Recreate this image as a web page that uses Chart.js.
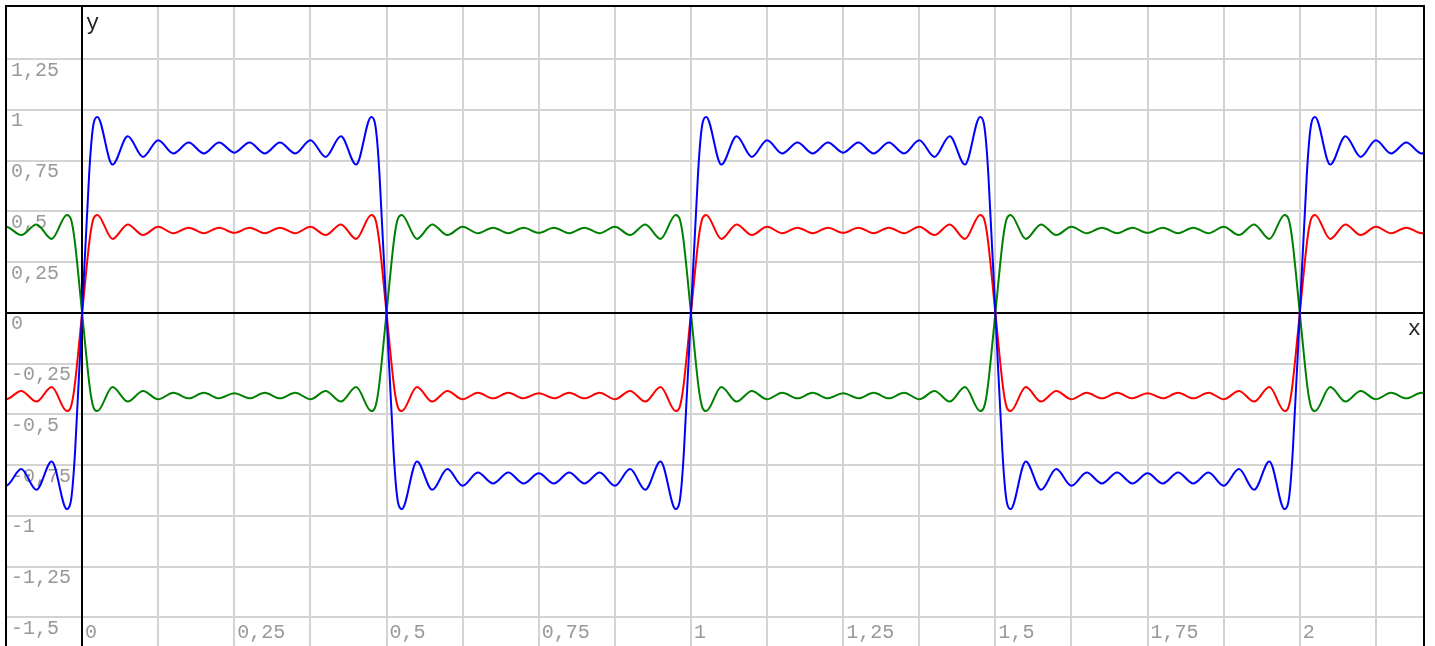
<!DOCTYPE html>
<html>
<head>
<meta charset="utf-8">
<script src="https://cdn.jsdelivr.net/npm/chart.js@4.4.0/dist/chart.umd.min.js"></script>
<style>
  html, body { margin: 0; padding: 0; background: #fff; }
</style>
</head>
<body>
<canvas id="fourier" width="1435" height="646"></canvas>
<script>
// sample positions: every ripple top/bottom (0.025 apart)
// plus a few points on each steep edge
const xs = [
  -0.15, -0.125, -0.1, -0.075, -0.05, -0.025,
  -0.019, -0.0155, -0.0115, 0, 0.0115, 0.0155, 0.019,
  0.025, 0.05, 0.075, 0.1, 0.125, 0.15, 0.175, 0.2, 0.225, 0.25, 0.275, 0.3, 0.325, 0.35, 0.375, 0.4, 0.425, 0.45, 0.475,
  0.481, 0.4845, 0.4885, 0.5, 0.5115, 0.5155, 0.519,
  0.525, 0.55, 0.575, 0.6, 0.625, 0.65, 0.675, 0.7, 0.725, 0.75, 0.775, 0.8, 0.825, 0.85, 0.875, 0.9, 0.925, 0.95, 0.975,
  0.981, 0.9845, 0.9885, 1, 1.0115, 1.0155, 1.019,
  1.025, 1.05, 1.075, 1.1, 1.125, 1.15, 1.175, 1.2, 1.225, 1.25, 1.275, 1.3, 1.325, 1.35, 1.375, 1.4, 1.425, 1.45, 1.475,
  1.481, 1.4845, 1.4885, 1.5, 1.5115, 1.5155, 1.519,
  1.525, 1.55, 1.575, 1.6, 1.625, 1.65, 1.675, 1.7, 1.725, 1.75, 1.775, 1.8, 1.825, 1.85, 1.875, 1.9, 1.925, 1.95, 1.975,
  1.981, 1.9845, 1.9885, 2, 2.0115, 2.0155, 2.019,
  2.025, 2.05, 2.075, 2.1, 2.125, 2.15, 2.175, 2.2, 2.225
];

const blue = [
  -0.786, -0.851, -0.769, -0.871, -0.731, -0.966,
  -0.935, -0.85, -0.68, 0, 0.68, 0.85, 0.935,
  0.966, 0.731, 0.871, 0.769, 0.851, 0.786, 0.84, 0.786, 0.84, 0.79, 0.84, 0.786, 0.84, 0.786, 0.851, 0.769, 0.871, 0.731, 0.966,
  0.935, 0.85, 0.68, 0, -0.68, -0.85, -0.935,
  -0.966, -0.731, -0.871, -0.769, -0.851, -0.786, -0.84, -0.786, -0.84, -0.79, -0.84, -0.786, -0.84, -0.786, -0.851, -0.769, -0.871, -0.731, -0.966,
  -0.935, -0.85, -0.68, 0, 0.68, 0.85, 0.935,
  0.966, 0.731, 0.871, 0.769, 0.851, 0.786, 0.84, 0.786, 0.84, 0.79, 0.84, 0.786, 0.84, 0.786, 0.851, 0.769, 0.871, 0.731, 0.966,
  0.935, 0.85, 0.68, 0, -0.68, -0.85, -0.935,
  -0.966, -0.731, -0.871, -0.769, -0.851, -0.786, -0.84, -0.786, -0.84, -0.79, -0.84, -0.786, -0.84, -0.786, -0.851, -0.769, -0.871, -0.731, -0.966,
  -0.935, -0.85, -0.68, 0, 0.68, 0.85, 0.935,
  0.966, 0.731, 0.871, 0.769, 0.851, 0.786, 0.84, 0.786, 0.84
];

const red = [
  -0.393, -0.425, -0.384, -0.436, -0.365, -0.483,
  -0.467, -0.425, -0.34, 0, 0.34, 0.425, 0.467,
  0.483, 0.365, 0.436, 0.384, 0.425, 0.393, 0.42, 0.393, 0.42, 0.395, 0.42, 0.393, 0.42, 0.393, 0.425, 0.384, 0.436, 0.365, 0.483,
  0.467, 0.425, 0.34, 0, -0.34, -0.425, -0.467,
  -0.483, -0.365, -0.436, -0.384, -0.425, -0.393, -0.42, -0.393, -0.42, -0.395, -0.42, -0.393, -0.42, -0.393, -0.425, -0.384, -0.436, -0.365, -0.483,
  -0.467, -0.425, -0.34, 0, 0.34, 0.425, 0.467,
  0.483, 0.365, 0.436, 0.384, 0.425, 0.393, 0.42, 0.393, 0.42, 0.395, 0.42, 0.393, 0.42, 0.393, 0.425, 0.384, 0.436, 0.365, 0.483,
  0.467, 0.425, 0.34, 0, -0.34, -0.425, -0.467,
  -0.483, -0.365, -0.436, -0.384, -0.425, -0.393, -0.42, -0.393, -0.42, -0.395, -0.42, -0.393, -0.42, -0.393, -0.425, -0.384, -0.436, -0.365, -0.483,
  -0.467, -0.425, -0.34, 0, 0.34, 0.425, 0.467,
  0.483, 0.365, 0.436, 0.384, 0.425, 0.393, 0.42, 0.393, 0.42
];

const green = [
  0.393, 0.425, 0.384, 0.436, 0.365, 0.483,
  0.467, 0.425, 0.34, 0, -0.34, -0.425, -0.467,
  -0.483, -0.365, -0.436, -0.384, -0.425, -0.393, -0.42, -0.393, -0.42, -0.395, -0.42, -0.393, -0.42, -0.393, -0.425, -0.384, -0.436, -0.365, -0.483,
  -0.467, -0.425, -0.34, 0, 0.34, 0.425, 0.467,
  0.483, 0.365, 0.436, 0.384, 0.425, 0.393, 0.42, 0.393, 0.42, 0.395, 0.42, 0.393, 0.42, 0.393, 0.425, 0.384, 0.436, 0.365, 0.483,
  0.467, 0.425, 0.34, 0, -0.34, -0.425, -0.467,
  -0.483, -0.365, -0.436, -0.384, -0.425, -0.393, -0.42, -0.393, -0.42, -0.395, -0.42, -0.393, -0.42, -0.393, -0.425, -0.384, -0.436, -0.365, -0.483,
  -0.467, -0.425, -0.34, 0, 0.34, 0.425, 0.467,
  0.483, 0.365, 0.436, 0.384, 0.425, 0.393, 0.42, 0.393, 0.42, 0.395, 0.42, 0.393, 0.42, 0.393, 0.425, 0.384, 0.436, 0.365, 0.483,
  0.467, 0.425, 0.34, 0, -0.34, -0.425, -0.467,
  -0.483, -0.365, -0.436, -0.384, -0.425, -0.393, -0.42, -0.393, -0.42
];

// grid lines and their labels
const xTickValues = [-0.125, 0, 0.125, 0.25, 0.375, 0.5, 0.625, 0.75, 0.875, 1, 1.125, 1.25, 1.375, 1.5, 1.625, 1.75, 1.875, 2, 2.125];
const xTickLabels = ['', '0', '', '0,25', '', '0,5', '', '0,75', '', '1', '', '1,25', '', '1,5', '', '1,75', '', '2', ''];
const yTickValues = [-1.5, -1.25, -1, -0.75, -0.5, -0.25, 0, 0.25, 0.5, 0.75, 1, 1.25];
const yTickLabels = ['-1,5', '-1,25', '-1', '-0,75', '-0,5', '-0,25', '0', '0,25', '0,5', '0,75', '1', '1,25'];

const monoFont = "'Courier New', 'Liberation Mono', monospace";

function toPoints(ys) {
  return xs.map((x, i) => ({ x: x, y: ys[i] }));
}

// black x and y axis through the origin, drawn under the curves
const originAxes = {
  id: 'originAxes',
  beforeDatasetsDraw(chart) {
    const { ctx, chartArea, scales } = chart;
    const px = Math.round(scales.x.getPixelForValue(0));
    const py = Math.round(scales.y.getPixelForValue(0));
    ctx.save();
    ctx.strokeStyle = '#000';
    ctx.lineWidth = 2;
    ctx.beginPath();
    ctx.moveTo(px, chartArea.top);
    ctx.lineTo(px, chartArea.bottom);
    ctx.moveTo(chartArea.left, py);
    ctx.lineTo(chartArea.right, py);
    ctx.stroke();
    ctx.restore();
  },
  afterDraw(chart) {
    const { ctx, chartArea, scales } = chart;
    const px = scales.x.getPixelForValue(0);
    const py = scales.y.getPixelForValue(0);
    ctx.save();
    ctx.fillStyle = '#222';
    ctx.font = '22px ' + monoFont;
    ctx.textBaseline = 'alphabetic';
    ctx.textAlign = 'left';
    ctx.fillText('y', px + 4, chartArea.top + 23);
    ctx.textAlign = 'right';
    ctx.fillText('x', chartArea.right - 3, py + 22);
    // frame (bottom edge falls outside the canvas, as in the picture)
    ctx.strokeStyle = '#000';
    ctx.lineWidth = 2;
    ctx.strokeRect(chartArea.left, chartArea.top, chartArea.right - chartArea.left, chartArea.bottom - chartArea.top + 10);
    ctx.restore();
  }
};

const canvas = document.getElementById('fourier');
new Chart(canvas, {
  type: 'line',
  data: {
    datasets: [
      { label: 'blue', data: toPoints(blue), borderColor: '#0000ff' },
      { label: 'red', data: toPoints(red), borderColor: '#ff0000' },
      { label: 'green', data: toPoints(green), borderColor: '#008000' }
    ]
  },
  options: {
    responsive: false,
    animation: false,
    devicePixelRatio: 1,
    layout: { padding: { left: 6, top: 6, right: 11, bottom: 0 } },
    elements: {
      point: { radius: 0 },
      line: { borderWidth: 2, cubicInterpolationMode: 'monotone', fill: false }
    },
    plugins: {
      legend: { display: false },
      tooltip: { enabled: false }
    },
    scales: {
      x: {
        type: 'linear',
        position: 'bottom',
        min: -0.125,
        max: 2.204,
        afterBuildTicks: s => { s.ticks = xTickValues.map(v => ({ value: v })); },
        afterFit: s => { s.height = 0; s.paddingLeft = 0; s.paddingRight = 0; s.paddingTop = 0; s.paddingBottom = 0; },
        grid: { color: '#d3d3d3', lineWidth: 2, drawTicks: false },
        border: { display: false },
        ticks: {
          mirror: true,
          align: 'start',
          padding: 1,
          labelOffset: 3,
          maxRotation: 0,
          autoSkip: false,
          color: '#999',
          font: { family: monoFont, size: 20, lineHeight: 1.2 },
          callback: (v, i) => xTickLabels[i]
        }
      },
      y: {
        type: 'linear',
        position: 'left',
        min: -1.6404,
        max: 1.5123,
        afterBuildTicks: s => { s.ticks = yTickValues.map(v => ({ value: v })); },
        afterFit: s => { s.width = 0; s.paddingLeft = 0; s.paddingRight = 0; s.paddingTop = 0; s.paddingBottom = 0; },
        grid: { color: '#d3d3d3', lineWidth: 2, drawTicks: false },
        border: { display: false },
        ticks: {
          mirror: true,
          padding: 5,
          labelOffset: 11,
          autoSkip: false,
          color: '#999',
          font: { family: monoFont, size: 20, lineHeight: 1.2 },
          callback: (v, i) => yTickLabels[i]
        }
      }
    }
  },
  plugins: [originAxes]
});
</script>
</body>
</html>
